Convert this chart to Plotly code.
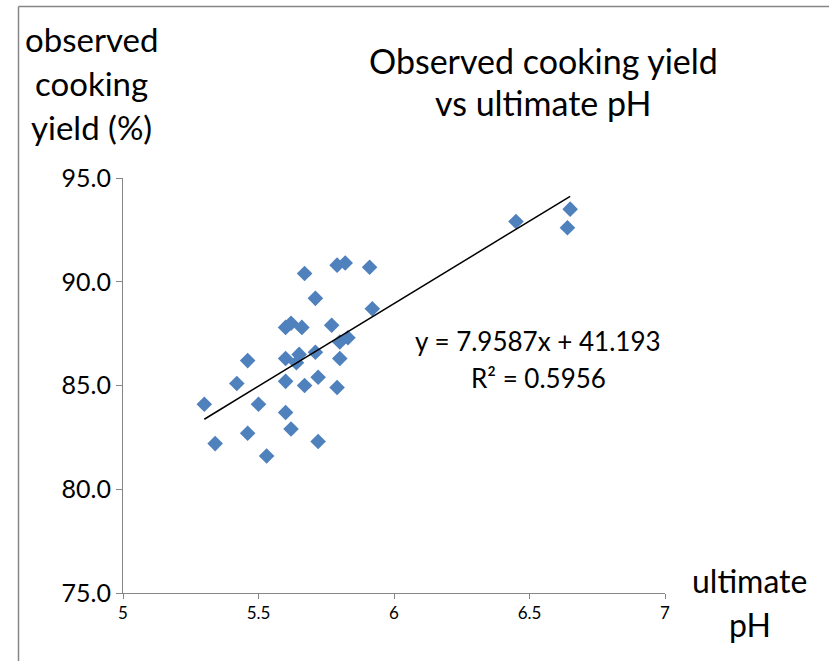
import plotly.graph_objects as go

# ---- data ----
ultimate_ph = [5.67, 5.79, 5.82, 5.91, 5.71, 5.92, 5.60, 5.62, 5.66, 5.77,
               5.83, 5.80, 5.46, 5.60, 5.65, 5.64, 5.71, 5.80, 5.42, 5.60,
               5.67, 5.72, 5.79, 5.30, 5.50, 5.60, 5.62, 5.46, 5.34, 5.72,
               5.53, 6.45, 6.65, 6.64]
cooking_yield = [90.4, 90.8, 90.9, 90.7, 89.2, 88.7, 87.8, 88.0, 87.8, 87.9,
                 87.3, 87.1, 86.2, 86.3, 86.5, 86.1, 86.6, 86.3, 85.1, 85.2,
                 85.0, 85.4, 84.9, 84.1, 84.1, 83.7, 82.9, 82.7, 82.2, 82.3,
                 81.6, 92.9, 93.5, 92.6]
SLOPE = 7.9587
INTERCEPT = 41.193
R2 = 0.5956
x_ticks = [5, 5.5, 6, 6.5, 7]
y_ticks = [75, 80, 85, 90, 95]

W, H = 829, 661
ML, MR, MT, MB = 123, 164, 178, 68
PW, PH = W - ML - MR, H - MT - MB


def px(x):
    return (x - ML) / PW


def py(y):
    return (H - MB - y) / PH


FONT = "Lato"
AXIS_COLOR = "#868686"

fig = go.Figure()
fig.add_trace(go.Scatter(
    x=ultimate_ph, y=cooking_yield, mode="markers",
    marker=dict(symbol="diamond", size=12, color="#4F81BD"),
    showlegend=False, hoverinfo="x+y"))

xmin, xmax = min(ultimate_ph), max(ultimate_ph)
fig.add_trace(go.Scatter(
    x=[xmin, xmax], y=[SLOPE * xmin + INTERCEPT, SLOPE * xmax + INTERCEPT],
    mode="lines", line=dict(color="black", width=1.5),
    showlegend=False, hoverinfo="skip"))

ann = []


def text(t, x, y, size):
    ann.append(dict(text=t, x=px(x), y=py(y), xref="paper", yref="paper",
                    showarrow=False, xanchor="center", yanchor="middle",
                    font=dict(family=FONT, size=size, color="black")))


text("Observed cooking yield", 543, 60, 34)
text("vs ultimate pH", 543, 103, 34)
text("observed", 91, 39, 33)
text("cooking", 91, 83, 33)
text("yield (%)", 91, 127, 33)
text("ultimate", 749, 580, 32)
text("pH", 750, 624, 32)
text(f"y = {SLOPE}x + {INTERCEPT}", 538, 341, 26)
text(f"R² = {R2}", 538, 378, 26)

shapes = [
    dict(type="line", xref="paper", yref="paper",
         x0=px(18.5), x1=px(W + 5), y0=py(6.5), y1=py(6.5),
         line=dict(color=AXIS_COLOR, width=1.5)),
    dict(type="line", xref="paper", yref="paper",
         x0=px(18.5), x1=px(18.5), y0=py(6.5), y1=py(H + 5),
         line=dict(color=AXIS_COLOR, width=1.5)),
]

fig.update_layout(
    width=W, height=H,
    margin=dict(l=ML, r=MR, t=MT, b=MB),
    paper_bgcolor="white", plot_bgcolor="white",
    annotations=ann, shapes=shapes,
    font=dict(family=FONT, color="black"),
    xaxis=dict(range=[5, 7], tickvals=x_ticks, ticktext=[f"{v:g}" for v in x_ticks],
               showgrid=False, zeroline=False, showline=True,
               linecolor=AXIS_COLOR, linewidth=1, ticks="outside", ticklen=5,
               tickcolor=AXIS_COLOR, tickfont=dict(family=FONT, size=17)),
    yaxis=dict(range=[75, 95], tickvals=y_ticks, ticktext=[f"{v:.1f}" for v in y_ticks],
               showgrid=False, zeroline=False, showline=True,
               linecolor=AXIS_COLOR, linewidth=1, ticks="outside", ticklen=6,
               tickcolor=AXIS_COLOR, tickfont=dict(family=FONT, size=25)),
)

fig.write_html("out.html")
